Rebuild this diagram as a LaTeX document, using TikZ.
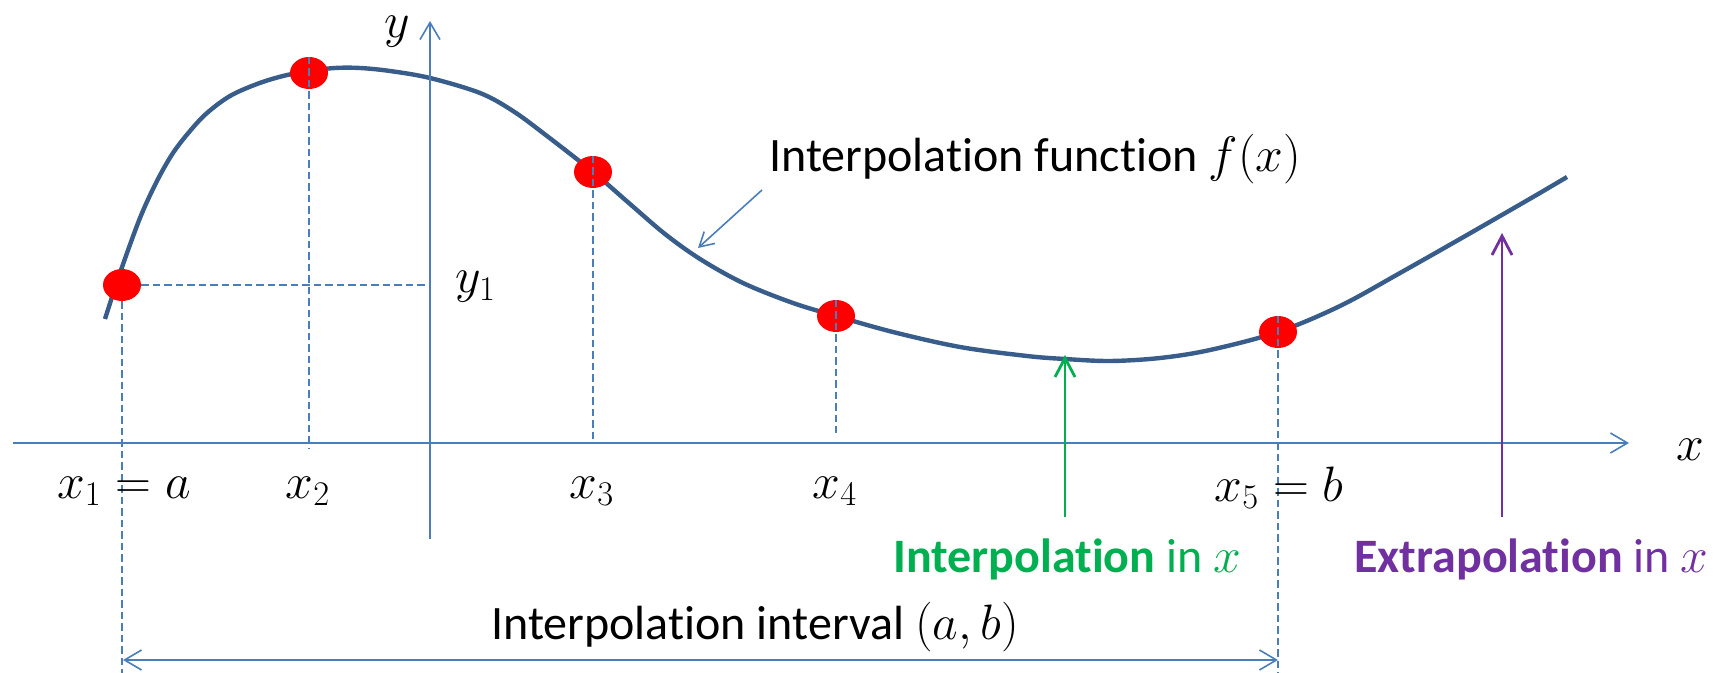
\documentclass[tikz,border=0pt]{standalone}
\usepackage{fontspec}
\setmainfont{Carlito}[Ligatures=NoCommon]
\usetikzlibrary{arrows.meta,shapes.geometric}
\definecolor{curveblue}{HTML}{385D8A}
\definecolor{axisblue}{HTML}{4A7EBB}
\definecolor{ipgreen}{HTML}{00B050}
\definecolor{eppurple}{HTML}{7030A0}
\begin{document}
\begin{tikzpicture}[x=0.5pt,y=-0.5pt,
  font=\fontsize{24}{29}\selectfont,
  axisline/.style={draw=axisblue, line width=0.8pt, -{Straight Barb[length=8.5pt,width=10pt]}},
  guide/.style={draw=axisblue, line width=0.7pt, dash pattern=on 3.75pt off 2pt},
  dot/.style={ellipse, fill=red, minimum width=19pt, minimum height=16pt, inner sep=0pt},
  fcurve/.style={draw=curveblue, line width=2.2pt},
  markarrow/.style={draw=#1, line width=1.4pt, -{Straight Barb[length=9.5pt,width=10pt]}},
  lbl/.style={inner sep=0pt, anchor=base},
  lblw/.style={inner sep=0pt, anchor=base west}
]
\useasboundingbox (0,0) rectangle (1723,673);

% curve
\draw[fcurve] plot[smooth, tension=0.55] coordinates {
  (105,319) (120,273) (140,218) (157,181) (173,153) (190,131) (207,113)
  (230,96) (257,84) (283,76) (309,71) (335,68) (360,68) (390,71) (430,78)
  (480,93) (513,111) (547,136) (593,172) (630,204) (665,234) (700,259)
  (743,283) (793,303) (836,316) (893,332) (960,347) (1027,356) (1065,359)
  (1110,361) (1160,358) (1210,350) (1278,332) (1340,306) (1400,273)
  (1467,235) (1533,197) (1567,177)};

% axes
\coordinate (xs) at (13,443);
\coordinate (xe) at (1629,443);
\coordinate (ys) at (430,539);
\coordinate (ye) at (430,21);
\draw[axisline] (xs) -- (xe);
\draw[axisline] (ys) -- (ye);

% data points
\node[dot] (p1) at (122,285) {};
\node[dot] (p2) at (309,73) {};
\node[dot] (p3) at (593,172) {};
\node[dot] (p4) at (836,316) {};
\node[dot] (p5) at (1278,332) {};

% guide lines
\coordinate (y1foot) at (430,285);
\coordinate (x1foot) at (122,673);
\coordinate (x2foot) at (309,449);
\coordinate (x3foot) at (593,443);
\coordinate (x4foot) at (836,433);
\coordinate (x5foot) at (1278,673);
\draw[guide] (p1.east) -- (y1foot);
\draw[guide] (p1.south) -- (x1foot);
\draw[guide] (p2.north) -- (x2foot);
\draw[guide] (p3.north) -- (x3foot);
\draw[guide] (p4.north) -- (x4foot);
\draw[guide] (p5.north) -- (x5foot);

% interval arrow
\coordinate (ia) at (123,660);
\coordinate (ib) at (1278,660);
\draw[draw=axisblue, line width=0.8pt,
  {Straight Barb[length=8.5pt,width=10pt]}-{Straight Barb[length=8.5pt,width=10pt]}] (ia) -- (ib);

% interpolation / extrapolation arrows
\coordinate (gbot) at (1065,517);
\coordinate (gtop) at (1065,355);
\coordinate (pbot) at (1502,517);
\coordinate (ptop) at (1502,233);
\draw[markarrow=ipgreen] (gbot) -- (gtop);
\draw[markarrow=eppurple] (pbot) -- (ptop);

% pointer to curve
\coordinate (fa) at (762,190);
\coordinate (fb) at (698,248);
\draw[draw=axisblue, line width=0.8pt, -{Straight Barb[length=7pt,width=8pt]}] (fa) -- (fb);

% labels
\node[lbl] (ly) at (397,38) {$y$};
\node[lbl] (lx) at (1690,460) {$x$};
\node[lblw] (ly1) at (455,293) {$y_1$};
\node[lbl] (lx1) at (124,498) {$x_1 = a$};
\node[lbl] (lx2) at (308,498) {$x_2$};
\node[lbl] (lx3) at (592,498) {$x_3$};
\node[lbl] (lx4) at (835,498) {$x_4$};
\node[lbl] (lx5) at (1279,501) {$x_5 = b$};
\node[lblw] (lfun) at (769,172) {Interpolation function $f(x)$};
\node[lblw] (lint) at (491,639) {Interpolation interval $(a,b)$};
\node[lblw, text=ipgreen] (lip) at (893,572) {\textbf{Interpolation} in $x$};
\node[lblw, text=eppurple] (lep) at (1354,572) {\textbf{Extrapolation} in $x$};
\end{tikzpicture}
\end{document}
